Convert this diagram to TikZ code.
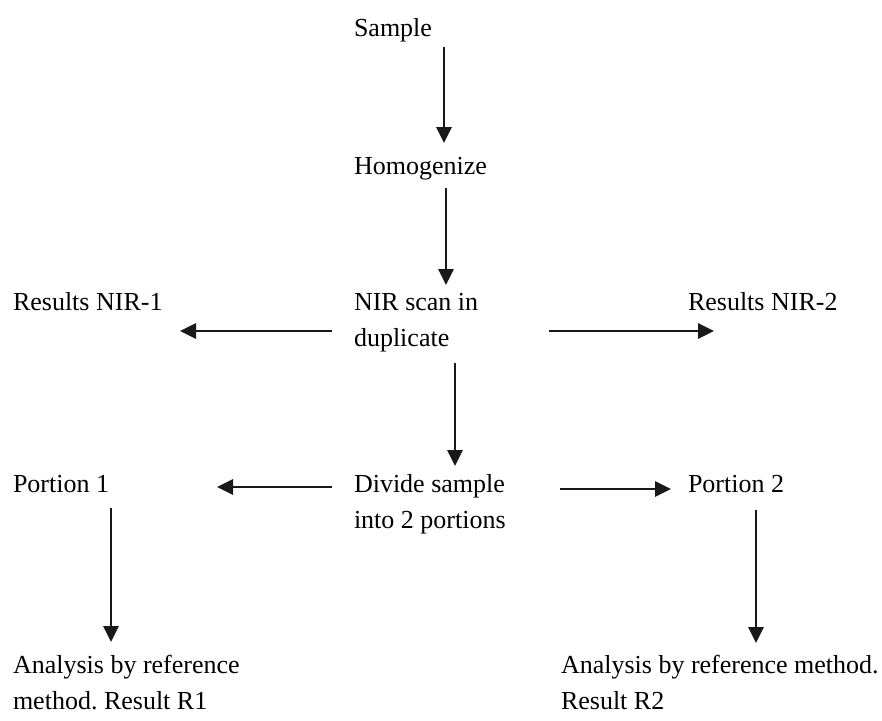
\documentclass[tikz,border=0pt]{standalone}
\usepackage{fontspec}
\setmainfont{Liberation Serif}
\frenchspacing
\usetikzlibrary{arrows.meta,calc}
\tikzset{
  lbl/.style={anchor=base west,inner sep=0pt,outer sep=0pt,font=\fontsize{26}{36}\selectfont},
  arr/.style={line width=2.9pt,color=black!90,-{Triangle[length=16pt,width=15pt]}}
}
\newcommand{\twol}[2]{\begin{tabular}[t]{@{}l@{}}#1\\#2\end{tabular}}
\begin{document}
\begin{tikzpicture}[x=1pt,y=-1pt]
\useasboundingbox (0,0) rectangle (882,720);
\node[lbl] (sample) at (354,36) {Sample};
\node[lbl] (homog) at (354,174) {Homogenize};
\node[lbl] (nir) at (354,310) {\twol{NIR scan in}{duplicate}};
\node[lbl] (res1) at (13,310) {Results NIR-1};
\node[lbl] (res2) at (688,310) {Results NIR-2};
\node[lbl] (divide) at (354,492) {\twol{Divide sample}{into 2 portions}};
\node[lbl] (por1) at (13,492) {Portion 1};
\node[lbl] (por2) at (688,492) {Portion 2};
\node[lbl] (ana1) at (13,673) {\twol{Analysis by reference}{method. Result R1}};
\node[lbl] (ana2) at (561,673) {\twol{Analysis by reference method.}{Result R2}};
\draw[arr] ($(sample.base west)+(90,11)$) -- ($(homog.base west)+(90,-31)$);
\draw[arr] ($(homog.base west)+(92,14)$) -- ($(nir.base west)+(92,-25)$);
\draw[arr] ($(nir.base west)+(-22,21)$) -- ($(res1.base west)+(167,21)$);
\draw[arr] ($(nir.base west)+(195,21)$) -- ($(res2.base west)+(26,21)$);
\draw[arr] ($(nir.base west)+(101,53)$) -- ($(divide.base west)+(101,-26)$);
\draw[arr] ($(divide.base west)+(-22,-5)$) -- ($(por1.base west)+(204,-5)$);
\draw[arr] ($(divide.base west)+(206,-3)$) -- ($(por2.base west)+(-17,-3)$);
\draw[arr] ($(por1.base west)+(98,16)$) -- ($(ana1.base west)+(98,-31)$);
\draw[arr] ($(por2.base west)+(68,18)$) -- ($(ana2.base west)+(195,-30)$);
\end{tikzpicture}
\end{document}
